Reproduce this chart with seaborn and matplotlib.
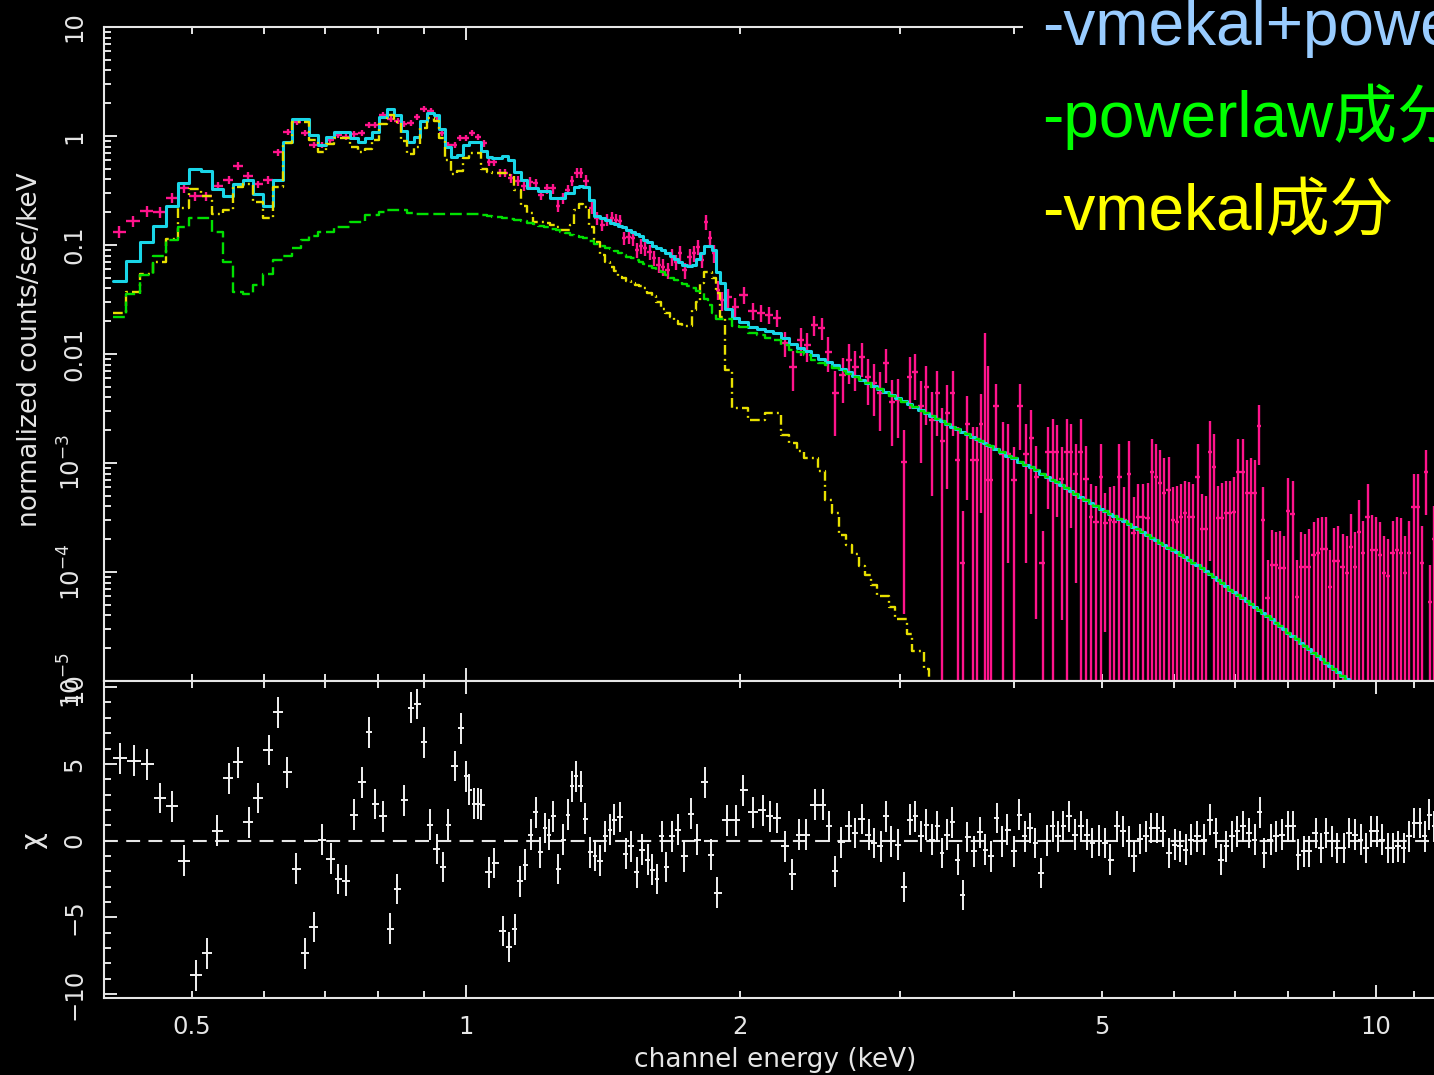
import numpy as np
import matplotlib
matplotlib.use("Agg")
import matplotlib.pyplot as plt
import seaborn as sns
from matplotlib.ticker import FixedLocator, FixedFormatter, FuncFormatter, MultipleLocator, NullFormatter

# ------------------------------------------------------------------
# Spectrum (top panel): bin centres [keV], normalized counts/sec/keV
# ------------------------------------------------------------------
energy_soft = [0.416, 0.4306, 0.4462, 0.4605, 0.4747, 0.4893, 0.5037, 0.5179, 0.5332, 0.5483,
               0.5617, 0.5761, 0.5908, 0.6060, 0.6215, 0.6366, 0.6513, 0.6655, 0.6800, 0.6948,
               0.7088, 0.7233, 0.7372, 0.7523, 0.7686, 0.7814, 0.7943, 0.8105, 0.8260, 0.8408,
               0.8549, 0.8689, 0.8835, 0.8981, 0.9141, 0.9281, 0.9399, 0.9554, 0.9714, 0.9849,
               1.0, 1.0153, 1.031]
flux_soft = [0.132, 0.166, 0.205, 0.20, 0.27, 0.333, 0.28, 0.28, 0.348, 0.395,
             0.53, 0.43, 0.36, 0.395, 0.71, 1.09, 1.34, 1.07, 0.83, 0.83,
             0.92, 1.02, 0.98, 1.04, 1.07, 1.26, 1.26, 1.56, 1.43, 1.37,
             1.29, 1.32, 1.49, 1.77, 1.69, 1.50, 1.07, 0.83, 0.83, 0.96,
             0.96, 1.07, 0.98]
relerr_soft = [0.13, 0.12, 0.11, 0.11, 0.10, 0.09, 0.09, 0.09, 0.09, 0.08,
               0.08, 0.08, 0.08, 0.08, 0.07, 0.06, 0.06, 0.06, 0.07, 0.07,
               0.07, 0.07, 0.07, 0.07, 0.07, 0.06, 0.06, 0.06, 0.06, 0.06,
               0.06, 0.06, 0.06, 0.06, 0.06, 0.06, 0.06, 0.07, 0.07, 0.07,
               0.07, 0.07, 0.07]
total_soft = [0.047, 0.0718, 0.106, 0.149, 0.228, 0.368, 0.495, 0.478, 0.324, 0.282,
              0.36, 0.395, 0.294, 0.228, 0.395, 0.887, 1.42, 1.42, 1.02, 0.827,
              0.973, 1.095, 1.095, 0.965, 0.887, 0.952, 1.095, 1.50, 1.76, 1.56,
              1.11, 0.887, 0.985, 1.37, 1.64, 1.56, 1.15, 0.787, 0.646, 0.669,
              0.827, 0.887, 0.887]
vmekal_soft = [0.0239, 0.0368, 0.054, 0.070, 0.114, 0.217, 0.324, 0.282, 0.191, 0.210,
               0.343, 0.36, 0.249, 0.178, 0.338, 0.857, 1.34, 1.34, 0.919, 0.718,
               0.84, 0.95, 0.95, 0.80, 0.72, 0.76, 0.91, 1.30, 1.55, 1.35,
               0.90, 0.69, 0.79, 1.18, 1.45, 1.37, 0.96, 0.60, 0.45, 0.48,
               0.63, 0.70, 0.70]
powerlaw_soft = [0.0219, 0.0356, 0.053, 0.080, 0.111, 0.146, 0.176, 0.176, 0.131, 0.0696,
                 0.0368, 0.0354, 0.043, 0.054, 0.073, 0.080, 0.093, 0.111, 0.121, 0.133,
                 0.133, 0.147, 0.147, 0.164, 0.164, 0.188, 0.188, 0.202, 0.21, 0.21,
                 0.21, 0.198, 0.193, 0.193, 0.193, 0.193, 0.193, 0.193, 0.193, 0.193,
                 0.193, 0.192, 0.191]

energy_mid = [1.0466, 1.0599, 1.0734, 1.0886, 1.1038, 1.1206, 1.1391, 1.1580, 1.1758, 1.1923,
              1.2090, 1.2275, 1.2463, 1.2623, 1.2766, 1.2929, 1.3078, 1.3227, 1.3379, 1.3531,
              1.3738, 1.3932, 1.4110, 1.4287, 1.4470, 1.4617, 1.4766, 1.4916, 1.5088, 1.5260,
              1.5416, 1.5573, 1.5731, 1.5910, 1.6094, 1.6276, 1.6465, 1.6653, 1.6845, 1.7017,
              1.7190, 1.7385, 1.7607, 1.7783, 1.7964, 1.8147, 1.8332, 1.8518, 1.8707, 1.8897,
              1.9112, 1.9405, 1.9753, 2.0182, 2.0647, 2.1097, 2.1528, 2.1968, 2.2389]
flux_mid = [0.86, 0.58, 0.58, 0.46, 0.46, 0.41, 0.39, 0.35, 0.38, 0.37,
            0.29, 0.33, 0.33, 0.23, 0.27, 0.32, 0.39, 0.46, 0.46, 0.39,
            0.22, 0.177, 0.153, 0.17, 0.177, 0.17, 0.166, 0.116, 0.119, 0.116,
            0.09, 0.098, 0.094, 0.086, 0.076, 0.066, 0.063, 0.059, 0.078, 0.07,
            0.084, 0.059, 0.078, 0.084, 0.096, 0.073, 0.163, 0.116, 0.084, 0.039,
            0.031, 0.033, 0.027, 0.035, 0.025, 0.024, 0.023, 0.0215, 0.0126]
relerr_mid = [0.07, 0.09, 0.09, 0.09, 0.09, 0.10, 0.10, 0.10, 0.10, 0.10,
              0.11, 0.11, 0.11, 0.12, 0.12, 0.11, 0.10, 0.10, 0.10, 0.12,
              0.13, 0.13, 0.13, 0.13, 0.13, 0.13, 0.14, 0.14, 0.14, 0.15,
              0.15, 0.15, 0.15, 0.16, 0.16, 0.17, 0.17, 0.17, 0.17, 0.16,
              0.17, 0.17, 0.17, 0.16, 0.16, 0.15, 0.16, 0.17, 0.18, 0.20,
              0.20, 0.20, 0.20, 0.18, 0.18, 0.18, 0.18, 0.18, 0.25]
total_mid = [0.733, 0.646, 0.624, 0.624, 0.655, 0.60, 0.47, 0.395, 0.331, 0.331,
             0.31, 0.31, 0.268, 0.268, 0.268, 0.302, 0.302, 0.343, 0.348, 0.34,
             0.26, 0.184, 0.176, 0.168, 0.16, 0.155, 0.149, 0.145, 0.138, 0.132,
             0.126, 0.12, 0.112, 0.106, 0.098, 0.094, 0.09, 0.085, 0.08, 0.074,
             0.07, 0.066, 0.064, 0.066, 0.075, 0.085, 0.098, 0.098, 0.090, 0.057,
             0.045, 0.026, 0.0213, 0.0198, 0.0178, 0.0170, 0.0161, 0.0155, 0.0140]
vmekal_mid = [0.50, 0.47, 0.455, 0.455, 0.46, 0.44, 0.32, 0.23, 0.196, 0.164,
              0.164, 0.160, 0.153, 0.145, 0.137, 0.137, 0.153, 0.21, 0.236, 0.225,
              0.147, 0.107, 0.081, 0.07, 0.063, 0.058, 0.051, 0.050, 0.047, 0.0447,
              0.043, 0.0418, 0.040, 0.0362, 0.034, 0.030, 0.026, 0.0237, 0.0220, 0.0200,
              0.0190, 0.0181, 0.0181, 0.0254, 0.030, 0.0447, 0.057, 0.057, 0.050, 0.036,
              0.022, 0.0071, 0.0032, 0.0032, 0.0025, 0.0025, 0.0029, 0.0029, 0.00182]
powerlaw_mid = [0.19, 0.185, 0.182, 0.18, 0.178, 0.174, 0.170, 0.166, 0.16, 0.155,
                0.150, 0.146, 0.139, 0.136, 0.132, 0.128, 0.124, 0.121, 0.118, 0.115,
                0.108, 0.103, 0.098, 0.094, 0.091, 0.088, 0.084, 0.081, 0.078, 0.076,
                0.073, 0.07, 0.067, 0.064, 0.061, 0.058, 0.056, 0.053, 0.050, 0.048,
                0.046, 0.044, 0.042, 0.040, 0.038, 0.036, 0.032, 0.028, 0.024, 0.021,
                0.021, 0.0209, 0.0180, 0.0176, 0.0155, 0.0148, 0.0140, 0.0134, 0.0122]

energy_hard = [2.2876, 2.3345, 2.3702, 2.4126, 2.4620, 2.4997, 2.5445, 2.5931, 2.6328, 2.6769,
               2.7248, 2.7665, 2.8088, 2.8514, 2.8950, 2.9392, 2.9842, 3.0299, 3.0727, 3.1155,
               3.1623, 3.2064, 3.2517, 3.2932, 3.3352, 3.3777, 3.4294, 3.4685, 3.5127, 3.5526,
               3.6029, 3.6438, 3.6809, 3.7140, 3.7423, 3.7709, 3.8236, 3.8877, 3.9420, 4.0024,
               4.0637, 4.1259, 4.1786, 4.2318]
flux_hard = [0.0076, 0.0134, 0.0120, 0.0184, 0.0174, 0.0105, 0.0044, 0.0064, 0.0088, 0.0076,
             0.0094, 0.0062, 0.0054, 0.0044, 0.0083, 0.0036, 0.0038, 0.00102, 0.0062, 0.0069,
             0.0033, 0.0050, 0.0025, 0.0044, 0.0016, 0.0029, 0.0044, 0.00106, 0.00012, 0.0023,
             0.00106, 0.00106, 0.0023, 0.0016, 0.0007, 0.0007, 0.0033, 0.0012, 0.0012, 0.0007,
             0.0033, 0.0012, 0.0017, 0.00074]
relerr_hard = [0.40, 0.29, 0.30, 0.21, 0.22, 0.35, 0.60, 0.45, 0.40, 0.40,
               0.35, 0.45, 0.50, 0.55, 0.35, 0.60, 0.55, 0.96, 0.50, 0.45,
               0.70, 0.55, 0.80, 0.60, 1.0, 0.80, 0.60, 1.0, 2.0, 0.80,
               1.0, 1.0, 0.85, 8.7, 10.0, 1.0, 0.6, 1.0, 0.9, 1.0,
               0.6, 0.9, 0.8, 0.95]
total_hard = [0.01245, 0.0114, 0.01067, 0.00988, 0.00906, 0.00848, 0.00785, 0.00723, 0.00677, 0.00630,
              0.00583, 0.00546, 0.00511, 0.00479, 0.00448, 0.00419, 0.00393, 0.00367, 0.00346, 0.00326,
              0.00305, 0.00287]
vmekal_hard = [0.00151, 0.0013, 0.0011, 0.0011, 0.00085, 0.00046, 0.00035, 0.00022, 0.000177, 0.000146,
               0.000114, 0.0000943, 0.0000766, 0.0000604, 0.0000604, 0.0000473, 0.0000369, 0.0000369,
               0.0000268, 0.0000188, 0.0000188, 0.0000128, 0.000008]
powerlaw_hard = [0.0108, 0.0104, 0.0097, 0.0089, 0.0083, 0.0080, 0.0075, 0.0070, 0.00659, 0.00615,
                 0.00572, 0.00537, 0.00503, 0.00473, 0.00442, 0.00414, 0.00389, 0.00363, 0.00343, 0.00324,
                 0.00303, 0.00286, 0.00271, 0.00256, 0.00242, 0.00229, 0.00215, 0.00204, 0.00193, 0.00184,
                 0.00173, 0.00165, 0.00158, 0.00152, 0.00147, 0.00142, 0.00134, 0.00125, 0.00117, 0.00110,
                 0.00103, 0.00096, 0.00091, 0.00086]

energy_tail = [4.302, 4.357, 4.413, 4.461, 4.514, 4.572, 4.622, 4.681, 4.740, 4.801,
               4.862, 4.924, 4.987, 5.038, 5.102, 5.158, 5.223, 5.290, 5.349, 5.416,
               5.480, 5.540, 5.611, 5.672, 5.734, 5.794, 5.853, 5.918, 5.978, 6.039,
               6.105, 6.167, 6.235, 6.298, 6.368, 6.432, 6.503, 6.570, 6.631, 6.698,
               6.766, 6.841, 6.911, 6.986, 7.057, 7.136, 7.214, 7.287, 7.362, 7.443,
               7.519, 7.603, 7.680, 7.764, 7.850, 7.929, 8.010, 8.098, 8.180, 8.271,
               8.356, 8.446, 8.540, 8.627, 8.715, 8.812, 8.902, 9.000, 9.091, 9.192,
               9.293, 9.386, 9.482, 9.587, 9.683, 9.790, 9.890, 10.00, 10.11, 10.21,
               10.32, 10.43, 10.54, 10.65, 10.76, 10.88, 11.00, 11.11, 11.23, 11.35,
               11.47, 11.59]
flux_tail = [1.2e-4, 1.27e-3, 1.27e-3, 1.27e-3, 7.2e-4, 1.27e-3, 1.27e-3, 7.9e-4, 1.27e-3, 7.2e-4,
             3.2e-4, 2.9e-4, 7.5e-4, 2.8e-4, 3.0e-4, 2.9e-4, 7.5e-4, 3.0e-4, 7.9e-4, 2.3e-4,
             3.2e-4, 3.2e-4, 3.1e-4, 8.3e-4, 7.5e-4, 6.6e-4, 5.3e-4, 5.65e-4, 3.0e-4, 2.9e-4,
             3.2e-4, 3.45e-4, 3.2e-4, 3.2e-4, 7.5e-4, 2.5e-4, 2.5e-4, 1.27e-3, 9.2e-4, 3.1e-4,
             3.1e-4, 3.45e-4, 3.45e-4, 3.57e-4, 8.3e-4, 8.3e-4, 5.3e-4, 5.3e-4, 5.3e-4, 2.18e-3,
             3.0e-4, 5.8e-5, 1.16e-4, 1.16e-4, 1.08e-4, 1.08e-4, 3.66e-4, 3.40e-4, 5.9e-5, 1.12e-4,
             1.12e-4, 1.12e-4, 1.43e-4, 1.48e-4, 1.61e-4, 1.61e-4, 7.3e-5, 1.27e-4, 1.27e-4, 1.12e-4,
             9.7e-5, 1.71e-4, 1.12e-4, 2.31e-4, 1.48e-4, 3.22e-4, 1.59e-4, 1.59e-4, 1.43e-4, 9.7e-5,
             9.1e-5, 1.48e-4, 1.59e-4, 1.48e-4, 9.7e-5, 1.48e-4, 3.97e-4, 3.97e-4, 1.2e-4, 8.3e-4,
             5.3e-5, 2.0e-4]
relerr_tail = [1.0, 0.7, 1.0, 0.75, 0.95, 1.0, 0.8, 0.9, 1.0, 1.0,
               1.0, 1.1, 1.0, 0.9, 1.0, 1.1, 1.0, 1.0, 1.0, 1.1,
               1.0, 1.0, 1.1, 1.0, 1.0, 1.0, 1.1, 1.0, 1.0, 1.1,
               1.0, 1.0, 1.1, 1.0, 1.0, 1.1, 1.0, 0.9, 1.0, 1.0,
               1.1, 1.0, 1.0, 1.1, 1.0, 1.0, 1.0, 1.1, 1.0, 0.56,
               1.0, 1.2, 1.1, 1.0, 1.2, 1.0, 1.0, 1.0, 1.2, 1.1,
               1.0, 1.2, 1.0, 1.1, 1.0, 1.0, 1.2, 1.0, 1.1, 1.0,
               1.2, 1.0, 1.1, 1.0, 1.0, 1.0, 1.1, 1.0, 1.0, 1.2,
               1.2, 1.0, 1.0, 1.1, 1.2, 1.0, 1.0, 1.0, 1.2, 0.6,
               1.2, 1.0]
nan = float("nan")
powerlaw_tail = [7.97e-4, 7.48e-4, 7.03e-4, 6.65e-4, 6.27e-4, 5.86e-4, 5.55e-4, 5.21e-4, 4.89e-4, 4.58e-4,
                 4.30e-4, 4.04e-4, 3.82e-4, 3.64e-4, 3.44e-4, 3.27e-4, 3.09e-4, 2.92e-4, 2.77e-4, 2.61e-4,
                 2.46e-4, 2.33e-4, 2.18e-4, 2.07e-4, 1.97e-4, 1.86e-4, 1.77e-4, 1.67e-4, 1.59e-4, 1.51e-4,
                 1.43e-4, 1.36e-4, 1.29e-4, 1.22e-4, 1.16e-4, 1.09e-4, 1.02e-4, 9.5e-5, 9.0e-5, 8.45e-5,
                 7.9e-5, 7.4e-5, 6.9e-5, 6.5e-5, 6.15e-5, 5.75e-5, 5.4e-5, 5.1e-5, 4.8e-5, 4.5e-5,
                 4.25e-5, 3.94e-5, 3.68e-5, 3.42e-5, 3.18e-5, 2.97e-5, 2.77e-5, 2.58e-5, 2.41e-5, 2.25e-5,
                 2.10e-5, 1.95e-5, 1.82e-5, 1.70e-5, 1.58e-5, 1.47e-5, 1.38e-5, 1.28e-5, 1.20e-5, 1.12e-5,
                 1.04e-5, 9.8e-6, nan, nan, nan, nan, nan, nan, nan, nan,
                 nan, nan, nan, nan, nan, nan, nan, nan, nan, nan,
                 nan, nan]

# ------------------------------------------------------------------
# Residuals (bottom panel): bin centres [keV] and chi
# ------------------------------------------------------------------
res_energy_soft = [0.4169, 0.4320, 0.4458, 0.4611, 0.4747, 0.4893, 0.5049, 0.5192, 0.5327, 0.5482,
                   0.5613, 0.5767, 0.5912, 0.6067, 0.6219, 0.6355, 0.6507, 0.6649, 0.6801, 0.6946,
                   0.7099, 0.7239, 0.7379, 0.7532, 0.7681, 0.7830, 0.7950, 0.8105, 0.8256, 0.8402,
                   0.8557, 0.8696, 0.8839, 0.8983, 0.9129, 0.9281, 0.9432, 0.9554, 0.9712, 0.9869,
                   1.001, 1.0086, 1.0195, 1.0306, 1.0395, 1.0599, 1.0740, 1.0973, 1.1153, 1.1311,
                   1.1457, 1.1622, 1.1773, 1.1937, 1.2067, 1.2201, 1.2334, 1.2466, 1.2630, 1.2794,
                   1.2936, 1.3074, 1.3216, 1.3360, 1.3521, 1.3697, 1.3847, 1.4043, 1.4229, 1.4380,
                   1.4537, 1.4776, 1.4985, 1.5180, 1.5397, 1.5596, 1.5849, 1.6022, 1.6199, 1.6409,
                   1.6587, 1.6818, 1.7095, 1.7374, 1.7656, 1.7951, 1.8298, 1.8603, 1.8880, 1.9361,
                   1.9785, 2.0172, 2.0660]
res_chi_soft = [5.37, 5.2, 4.98, 2.77, 2.23, -1.3, -8.77, -7.34, 0.65, 4.07,
                5.11, 1.19, 2.77, 5.91, 8.36, 4.46, -1.82, -7.34, -5.63, 0.06,
                -1.17, -2.49, -2.6, 1.69, 3.81, 7.06, 2.38, 1.58, -5.73, -3.14,
                2.62, 8.66, 8.9, 6.41, 1.04, -0.54, -1.71, 1.04, 4.87, 7.32,
                4.18, 3.31, 2.4, 2.4, 2.34, -2.06, -1.45, -5.89, -6.93, -5.78,
                -2.64, -1.56, 0.39, 1.84, -0.76, 0.82, 0.39, 1.58, -1.84, 0.06,
                1.69, 3.53, 4.18, 3.53, 1.43, -0.76, -0.97, -1.3, 0.28, 0.71,
                1.36, 1.54, -0.84, -0.37, -2.06, -0.58, -1.23, -1.88, -2.49, 0.28,
                -1.71, 0.28, 0.71, -1.02, 1.75, 0.06, 3.79, -0.91, -3.4, 1.32,
                1.32, 3.27, 1.84]
res_energy_hard = [2.1204, 2.1559, 2.1984, 2.2393, 2.2841, 2.3213, 2.3639, 2.4167, 2.4650, 2.5028,
                   2.5464, 2.5855, 2.6367, 2.6740, 2.7244, 2.7693, 2.8053, 2.8549, 2.8926, 2.9343,
                   2.9820, 3.0269, 3.0768, 3.1138, 3.1616, 3.2064, 3.2525, 3.2955, 3.3321, 3.3753,
                   3.4232, 3.4685, 3.5183, 3.5566, 3.6141, 3.6749, 3.7226, 3.7753, 3.8296, 3.8803,
                   3.9346, 4.0004, 4.0534, 4.1100, 4.1652, 4.2241, 4.2888, 4.3504, 4.4120, 4.4693,
                   4.5336, 4.6042, 4.6684, 4.7465, 4.8135, 4.8760, 4.9575, 5.0393, 5.1047, 5.1949,
                   5.2723, 5.3468, 5.4237, 5.5068, 5.5847, 5.6650, 5.7387, 5.8334, 5.9174, 6.0080,
                   6.0931, 6.1808, 6.2609, 6.3641, 6.4690, 6.5757, 6.6702, 6.7568, 6.8461, 6.9440,
                   7.0437, 7.1519, 7.2536, 7.3578, 7.4532, 7.5342, 7.6603, 7.7652, 7.8862, 7.9994,
                   8.1110, 8.2182, 8.3267, 8.4444, 8.5837, 8.6971, 8.8222, 8.9470, 9.0654, 9.2128,
                   9.3433, 9.4868, 9.6230, 9.7566, 9.8878, 10.016, 10.158, 10.304, 10.437, 10.575,
                   10.725, 10.879, 11.023, 11.167, 11.326, 11.450, 11.572]
res_chi_hard = [1.97, 1.58, 1.47, -0.37, -2.2, 0.39, 0.39, 2.34, 2.34, 0.93,
                -2.0, -0.11, 0.93, 0.50, 1.41, 0.39, -0.15, -0.37, 1.58, -0.04,
                -0.26, -3.01, 1.36, 1.58, 0.28, 1.04, 0.06, 0.93, -0.80, 0.39,
                1.19, -1.23, -3.55, 0.24, -0.69, 0.54, -0.58, -1.02, 1.47, -0.04,
                0.71, -0.69, 1.69, 0.28, 0.82, -0.15, -2.1, 0.0, 0.93, 0.28,
                0.93, 1.58, 0.39, 0.93, 0.39, -0.15, 0.0, -0.15, -1.23, 0.93,
                0.61, -0.04, -1.02, 0.11, 0.28, 0.82, 0.82, 0.61, -0.80, -0.26,
                -0.37, -0.58, 0.06, 0.28, 0.06, 1.36, 0.50, -1.23, -0.37, 0.28,
                0.61, 0.93, 0.50, 0.06, 1.84, -0.80, 0.06, 0.28, 0.39, 0.93,
                0.93, -0.91, -0.69, -0.69, 0.50, -0.48, 0.50, -0.04, -0.48, -0.48,
                0.50, 0.39, 0.06, -0.48, 0.61, 0.61, 0.06, -0.48, -0.48, -0.37,
                -0.48, 0.28, 1.15, 1.15, 0.28, 1.69, 0.93]

legend_lines = ["-vmekal+powerlaw", "-powerlaw成分", "-vmekal成分"]
legend_colors = ["#99ccff", "#00ff00", "#ffff00"]

# ------------------------------------------------------------------
# Assemble
# ------------------------------------------------------------------
energy = np.array(energy_soft + energy_mid + energy_hard + energy_tail)
flux = np.array(flux_soft + flux_mid + flux_hard + flux_tail)
relerr = np.array(relerr_soft + relerr_mid + relerr_hard + relerr_tail)
powerlaw = np.array(powerlaw_soft + powerlaw_mid + powerlaw_hard + powerlaw_tail)
vmekal = np.array(vmekal_soft + vmekal_mid + vmekal_hard)
n_tot = len(total_soft) + len(total_mid) + len(total_hard)
total = np.concatenate([total_soft, total_mid, total_hard, powerlaw[n_tot:]])
res_e = np.array(res_energy_soft + res_energy_hard)
res_chi = np.array(res_chi_soft + res_chi_hard)


def edges_from_centers(c):
    c = np.asarray(c, float)
    mid = np.sqrt(c[:-1] * c[1:])
    return np.concatenate([[c[0] ** 2 / mid[0]], mid, [c[-1] ** 2 / mid[-1]]])


edges = edges_from_centers(energy)
res_edges = edges_from_centers(res_e)

# ------------------------------------------------------------------
# Style
# ------------------------------------------------------------------
sns.set_theme(style="ticks")
plt.rcParams["font.family"] = ["DejaVu Sans"]
plt.rcParams["mathtext.fontset"] = "dejavusans"
plt.rcParams["lines.scale_dashes"] = False
plt.rcParams["axes.unicode_minus"] = True

BG = "black"
FG = "#e6e6e6"
MAGENTA = "#ff148c"
CYAN = "#19d6e8"
GREEN = "#00e000"
YELLOW = "#e8e000"

W, H = 1434, 1075
fig = plt.figure(figsize=(W / 100, H / 100), dpi=100, facecolor=BG)
x0, x1 = 104, 1448
ax1 = fig.add_axes([x0 / W, (H - 681) / H, (x1 - x0) / W, (681 - 27) / H])
ax2 = fig.add_axes([x0 / W, (H - 998) / H, (x1 - x0) / W, (998 - 681) / H])

for ax in (ax1, ax2):
    ax.set_facecolor(BG)
    ax.grid(False)
    ax.set_xscale("log")
    ax.set_xlim(0.4, 12.0)
    for s in ax.spines.values():
        s.set_color(FG)
        s.set_linewidth(1.5)
        s.set_visible(True)

ax1.set_yscale("log")
ax1.set_ylim(1e-5, 10)
ax2.set_ylim(-10.25, 10.4)


def draw_steps(ax, vals, color, lw, dashes=None, z=3):
    vals = np.asarray(vals, float)
    ok = np.isfinite(vals)
    n = len(vals) if ok.all() else int(np.argmin(ok))
    xs = edges[: n + 1]
    ys = np.append(vals[:n], vals[n - 1])
    sns.lineplot(x=xs, y=ys, ax=ax, color=color, linewidth=lw, drawstyle="steps-post",
                 estimator=None, sort=False, legend=False, zorder=z)
    line = ax.get_lines()[-1]
    line.set_clip_on(True)
    if dashes is not None:
        line.set_dashes(dashes)


# data crosses
sigma = flux * relerr
ylo = flux - np.maximum(flux - sigma, 1e-7)
yhi = sigma
xlo = energy - edges[:-1]
xhi = edges[1:] - energy
ax1.errorbar(energy, flux, xerr=[xlo, xhi], yerr=[ylo, yhi], fmt="none",
             ecolor=MAGENTA, elinewidth=1.7, capsize=0, zorder=2)

# model curves
draw_steps(ax1, total, CYAN, 2.2, z=3)
draw_steps(ax1, vmekal, YELLOW, 1.7, dashes=(7.0, 3.0, 1.4, 3.0), z=4)
draw_steps(ax1, powerlaw, GREEN, 1.7, dashes=(8.5, 3.5), z=5)

# residuals
ax2.axhline(0, color=FG, lw=1.5, dashes=(10, 6), zorder=1)
rxlo = res_e - res_edges[:-1]
rxhi = res_edges[1:] - res_e
ax2.errorbar(res_e, res_chi, xerr=[rxlo, rxhi], yerr=1.0, fmt="none",
             ecolor="#f2f2f2", elinewidth=1.4, capsize=0, zorder=2)

# ------------------------------------------------------------------
# Ticks
# ------------------------------------------------------------------
minor_x = [0.4, 0.5, 0.6, 0.7, 0.8, 0.9, 2, 3, 4, 5, 6, 7, 8, 9, 11, 12]
minor_lbl = {0.5: "0.5", 2.0: "2", 5.0: "5"}
for ax in (ax1, ax2):
    ax.xaxis.set_major_locator(FixedLocator([1, 10]))
    ax.xaxis.set_minor_locator(FixedLocator(minor_x))
    ax.tick_params(which="both", direction="in", top=True, right=True,
                   color=FG, width=1.4, labelcolor=FG)
    ax.tick_params(which="major", length=9.4)
    ax.tick_params(which="minor", length=5.0)

ax1.xaxis.set_major_formatter(NullFormatter())
ax1.xaxis.set_minor_formatter(NullFormatter())
ax2.xaxis.set_major_formatter(FixedFormatter(["1", "10"]))
ax2.xaxis.set_minor_formatter(FuncFormatter(lambda v, p: minor_lbl.get(round(v, 3), "")))
ax2.tick_params(axis="x", which="both", labelsize=17.5, pad=12)

ymaj = [1e-5, 1e-4, 1e-3, 1e-2, 1e-1, 1, 10]
ax1.yaxis.set_major_locator(FixedLocator(ymaj))
ax1.yaxis.set_major_formatter(FixedFormatter(
    [r"$10^{-5}$", r"$10^{-4}$", r"$10^{-3}$", "0.01", "0.1", "1", "10"]))
ax1.yaxis.set_minor_locator(FixedLocator([k * d for d in ymaj[:-1] for k in range(2, 10)]))
ax1.yaxis.set_minor_formatter(NullFormatter())

ax2.yaxis.set_major_locator(FixedLocator([-10, -5, 0, 5, 10]))
ax2.yaxis.set_major_formatter(FixedFormatter(["\u221210", "\u22125", "0", "5", "10"]))
ax2.yaxis.set_minor_locator(MultipleLocator(1))

for ax in (ax1, ax2):
    ax.tick_params(axis="y", which="major", labelsize=17.5, labelrotation=90, pad=13)
    for lbl in ax.get_yticklabels():
        lbl.set_va("center")

# ------------------------------------------------------------------
# Labels
# ------------------------------------------------------------------
fig.text(30 / W, 1 - 350 / H, "normalized counts/sec/keV", rotation=90,
         ha="center", va="center", fontsize=19, color=FG)
fig.text(33 / W, 1 - 841 / H, "\u03c7", rotation=90, ha="center", va="center",
         fontsize=21, color=FG)
fig.text(775 / W, 1 - 1060 / H, "channel energy (keV)", ha="center", va="center",
         fontsize=19, color=FG)

baselines = [45, 137, 230]
for i, (txt, col, yb) in enumerate(zip(legend_lines, legend_colors, baselines)):
    kw = {}
    if i == 0:
        kw["bbox"] = dict(facecolor=BG, edgecolor="none", pad=14)
    fig.text(1042 / W, 1 - yb / H, txt, ha="left", va="baseline", fontsize=46, color=col,
             family=["Liberation Sans", "Noto Sans CJK SC"], **kw)

fig.savefig("out.png", dpi=100, facecolor=BG)
